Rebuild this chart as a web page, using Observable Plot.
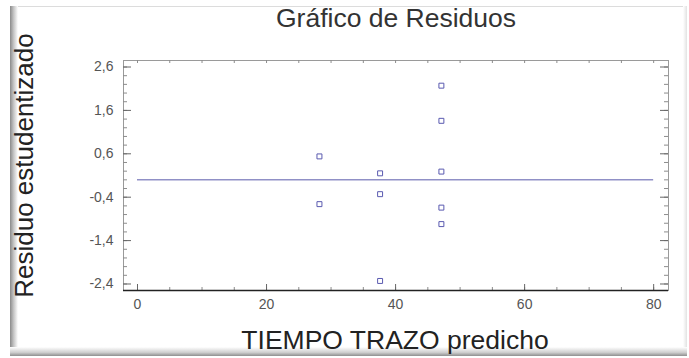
<!DOCTYPE html>
<html>
<head>
<meta charset="utf-8">
<script src="https://cdn.jsdelivr.net/npm/d3@7"></script>
<script src="https://cdn.jsdelivr.net/npm/@observablehq/plot@0.6"></script>
<style>
  html, body { margin: 0; padding: 0; background: #fff; }
  #wrap { position: relative; width: 689px; height: 358px; overflow: hidden; background: #fff; }
  .b { position: absolute; }
  #chart { position: absolute; left: 0; top: 0; }
</style>
</head>
<body>
<div id="wrap">
  <div class="b" style="left:10px;top:6px;width:676px;height:1px;background:#dcdcdc"></div>
  <div class="b" style="left:10px;top:6px;width:8px;height:350px;background:linear-gradient(to right,#8a8a8a,#c4c4c4 45%,#fff)"></div>
  <div class="b" style="left:683px;top:6px;width:4px;height:350px;background:linear-gradient(to right,#fff,#e2e2e2)"></div>
  <div class="b" style="left:10px;top:347px;width:677px;height:9px;background:linear-gradient(to bottom,#fff,#cfcfcf 60%,#8f8f8f)"></div>
  <div id="chart"></div>
</div>
<script>
// ---- data ----
const predicted = [28.2, 28.2, 37.6, 37.6, 37.6, 47.1, 47.1, 47.1, 47.1, 47.1];
const residuals = [0.54, -0.56, 0.15, -0.33, -2.33, 2.17, 1.36, 0.19, -0.64, -1.02];
const yTickLabels = [-2.4, -1.4, -0.4, 0.6, 1.6, 2.6];
const xTickLabels = [0, 20, 40, 60, 80];
const yMinorTicks = d3.range(-2.4, 2.61, 0.2).map(v => +v.toFixed(1));
const xMinorTicks = d3.range(0, 81, 5);
const zeroLine = [{y: 0, from: 0, to: 80}];
const titleText = "Gráfico de Residuos";
const xLabel = "TIEMPO TRAZO predicho";
const yLabel = "Residuo estudentizado";
const xDomain = [-2.17, 82.3];
const yDomain = [-2.55, 2.75];

const points = predicted.map((x, i) => ({x, y: residuals[i]}));

const W = 689, H = 358, mL = 123, mR = 21, mT = 60, mB = 68;
const fw = W - mL - mR, fh = H - mT - mB;
const fmt = d => d.toFixed(1).replace(".", ",");
const tickColor = "#8c8c8c";

const chart = Plot.plot({
  width: W, height: H,
  marginLeft: mL, marginRight: mR, marginTop: mT, marginBottom: mB,
  style: {fontFamily: "'Liberation Sans', Arial, sans-serif", background: "transparent"},
  x: {domain: xDomain},
  y: {domain: yDomain},
  marks: [
    Plot.frame({stroke: "#9a9a9a"}),
    // inward ticks, left and right
    Plot.tickY(yMinorTicks, {y: d => d, stroke: tickColor, insetRight: fw - 4}),
    Plot.tickY(yTickLabels, {y: d => d, stroke: "#666", insetRight: fw - 8}),
    Plot.tickY(yMinorTicks, {y: d => d, stroke: tickColor, insetLeft: fw - 4}),
    Plot.tickY(yTickLabels, {y: d => d, stroke: "#666", insetLeft: fw - 8}),
    // inward ticks, top and bottom
    Plot.tickX(xMinorTicks, {x: d => d, stroke: tickColor, insetBottom: fh - 3}),
    Plot.tickX(xMinorTicks, {x: d => d, stroke: tickColor, insetTop: fh - 3}),
    Plot.tickX(xTickLabels, {x: d => d, stroke: "#666", insetTop: fh - 6}),
    Plot.ruleY([yDomain[0]], {stroke: "#222", strokeWidth: 1.5}),
    Plot.axisY({ticks: yTickLabels, tickSize: 0, tickPadding: 10, tickFormat: fmt, label: null, fontSize: 14, color: "#555"}),
    Plot.axisX({ticks: xTickLabels, tickSize: 0, tickPadding: 9, tickFormat: d => String(d), label: null, fontSize: 14, color: "#555"}),
    Plot.ruleY(zeroLine, {y: "y", x1: "from", x2: "to", stroke: "#5a5aaa", strokeWidth: 1}),
    Plot.dot(points, {x: "x", y: "y", symbol: "square", r: 2.8, stroke: "#5a5ab0", fill: "white", strokeWidth: 1}),
    Plot.text([titleText], {frameAnchor: "top", lineAnchor: "middle", dy: -42, fontSize: 26.5, fill: "#333", text: d => d}),
    Plot.text([xLabel], {frameAnchor: "bottom", lineAnchor: "middle", dy: 50, dx: -1, fontSize: 26.5, fill: "#222", text: d => d}),
    Plot.text([yLabel], {frameAnchor: "left", textAnchor: "middle", lineAnchor: "middle", rotate: -90, dx: -99, dy: -10, fontSize: 26, fill: "#222", text: d => d})
  ]
});
document.getElementById("chart").appendChild(chart);
</script>
</body>
</html>
